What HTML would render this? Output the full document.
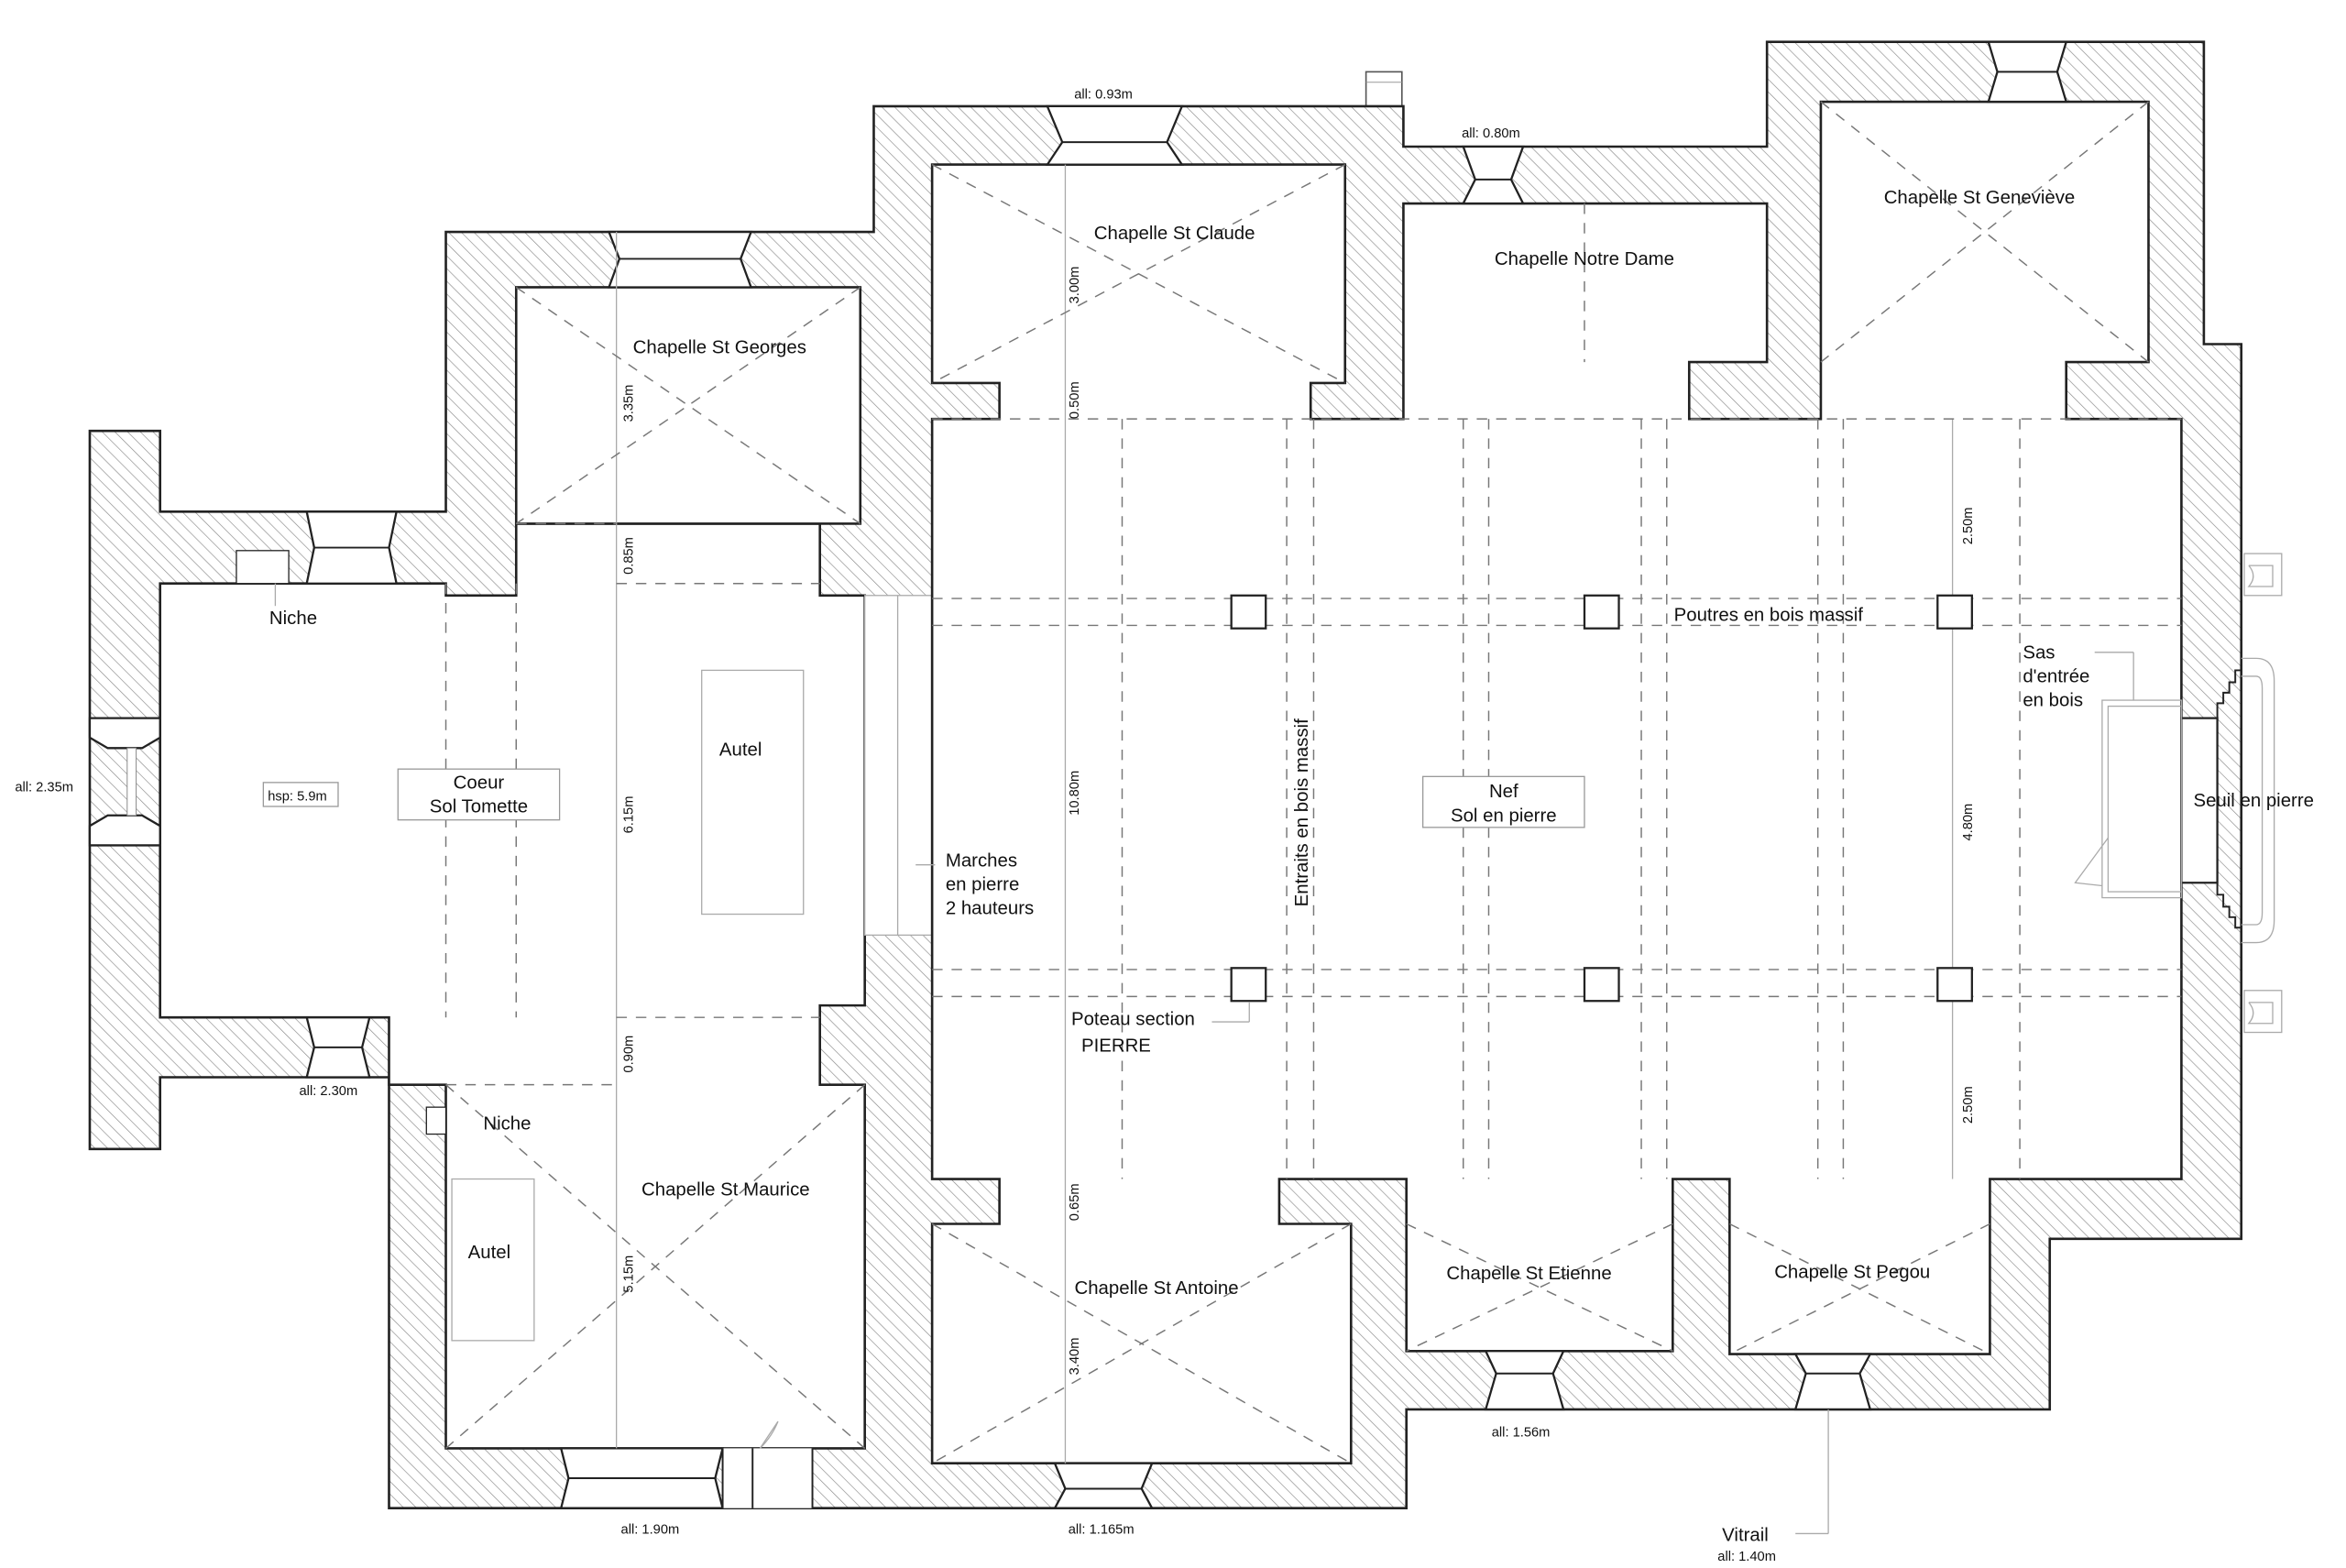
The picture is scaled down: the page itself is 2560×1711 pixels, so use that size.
<!DOCTYPE html>
<html><head><meta charset="utf-8"><style>
html,body{margin:0;padding:0;background:#fff;}
svg{display:block;}
text{font-family:"Liberation Sans",sans-serif;fill:#111;}
</style></head><body>
<svg width="2560" height="1711" viewBox="0 0 1568 1048" preserveAspectRatio="none" xmlns="http://www.w3.org/2000/svg">
<defs>
<pattern id="h" width="6" height="6" patternUnits="userSpaceOnUse" patternTransform="rotate(-45)">
<rect width="6" height="6" fill="#fff"/><line x1="0" y1="0" x2="0" y2="6" stroke="#8a8a8a" stroke-width="0.8"/>
</pattern>
</defs>
<rect width="1568" height="1048" fill="#fff"/>
<rect x="913" y="48" width="24" height="23" fill="#fff" stroke="#555" stroke-width="1"/>
<line x1="913" y1="55" x2="937" y2="55" stroke="#999" stroke-width="0.6"/>
<polygon points="60,288 107,288 107,342 298,342 298,155 584,155 584,71 938,71 938,98 1181,98 1181,28 1473,28 1473,230 1498,230 1498,828 1370,828 1370,942 940,942 940,1008 260,1008 260,720 107,720 107,768 60,768" fill="url(#h)" stroke="#222" stroke-width="1.6"/>
<g fill="#fff" stroke="#222" stroke-width="1.6">
<polygon points="107,390 298,390 298,398 345,398 345,350 548,350 548,398 578,398 578,672 548,672 548,725 578,725 578,968 298,968 298,725 260,725 260,680 107,680"/>
<rect x="345" y="192" width="230" height="158"/>
<rect x="578" y="398" width="45" height="227" stroke="#aaa" stroke-width="0.8"/>
<polygon points="668,280 668,256 623,256 623,110 899,110 899,256 876,256 876,280 938,280 938,136 1181,136 1181,242 1129,242 1129,280 1217,280 1217,68 1436,68 1436,242 1381,242 1381,280 1458,280 1458,788 1330,788 1330,905 1156,905 1156,788 1118,788 1118,903 940,903 940,788 855,788 855,818 903,818 903,978 623,978 623,818 668,818 668,788 623,788 623,280"/>
</g>
<g fill="#fff" stroke="#222" stroke-width="1.4">
<polygon points="205,342 265,342 260,366 265,390 205,390 210,366"/>
<polygon points="60,480 107,480 107,493 95,500 72,500 60,493"/>
<polygon points="60,565 107,565 107,552 95,545 72,545 60,552"/>
<rect x="85" y="500" width="6" height="45" stroke-width="0.6" stroke="#888"/>
<polygon points="205,680 247,680 242,700 247,720 205,720 210,700"/>
<polygon points="407,155 502,155 495,173 502,192 407,192 414,173"/>
<polygon points="700,71 790,71 780,95 790,110 700,110 710,95"/>
<polygon points="978,98 1018,98 1010,120 1018,136 978,136 986,120"/>
<polygon points="1329,28 1381,28 1375,48 1381,68 1329,68 1335,48"/>
<polygon points="375,968 483,968 478,988 483,1008 375,1008 380,988"/>
<polygon points="705,978 770,978 763,995 770,1008 705,1008 712,995"/>
<polygon points="993,903 1045,903 1038,918 1045,942 993,942 1000,918"/>
<polygon points="1200,905 1250,905 1243,918 1250,942 1200,942 1207,918"/>
<rect x="483" y="968" width="60" height="40" stroke="none"/>
<polygon points="1458,480 1482,480 1482,590 1458,590"/>
</g>
<g fill="none" stroke="#222" stroke-width="1.2">
<line x1="210" y1="366" x2="260" y2="366"/><line x1="210" y1="700" x2="242" y2="700"/>
<line x1="414" y1="173" x2="495" y2="173"/><line x1="710" y1="95" x2="780" y2="95"/>
<line x1="986" y1="120" x2="1010" y2="120"/><line x1="1335" y1="48" x2="1375" y2="48"/>
<line x1="380" y1="988" x2="478" y2="988"/><line x1="712" y1="995" x2="763" y2="995"/>
<line x1="1000" y1="918" x2="1038" y2="918"/><line x1="1207" y1="918" x2="1243" y2="918"/>
<line x1="483" y1="968" x2="483" y2="1008"/><line x1="503" y1="968" x2="503" y2="1008"/>
<line x1="543" y1="968" x2="543" y2="1008"/>
<line x1="1458" y1="480" x2="1458" y2="590"/>
<polyline points="1482,480 1482,470 1486,470 1486,463 1490,463 1490,456 1494,456 1494,448 1498,448"/>
<polyline points="1482,590 1482,598 1486,598 1486,606 1490,606 1490,613 1494,613 1494,620 1498,620"/>
</g>
<g fill="none" stroke="#aaa" stroke-width="0.8">
<path d="M508,968 L520,950 M508,968 Q516,960 520,950"/>
<path d="M1498,440 L1508,440 Q1520,440 1520,455 L1520,615 Q1520,630 1508,630 L1498,630"/>
<path d="M1498,452 L1508,452 Q1512,452 1512,460 L1512,610 Q1512,618 1508,618 L1498,618"/>
<rect x="1405" y="468" width="53" height="132"/><rect x="1409" y="472" width="49" height="124"/>
<polyline points="1409,560 1387,590 1405,592"/>
<line x1="1426" y1="436" x2="1426" y2="468"/><line x1="1400" y1="436" x2="1426" y2="436"/>
<rect x="1500" y="370" width="25" height="28"/><rect x="1500" y="662" width="25" height="28"/>
<path d="M1503,378 h16 v14 h-16 q6,-7 0,-14"/><path d="M1503,670 h16 v14 h-16 q6,-7 0,-14"/>
<rect x="469" y="448" width="68" height="163"/>
<rect x="302" y="788" width="55" height="108"/>
<rect x="285" y="740" width="13" height="18" stroke="#222" fill="#fff"/>
<rect x="158" y="368" width="35" height="22" stroke="#222" fill="#fff"/>
<line x1="184" y1="390" x2="184" y2="405"/>
<line x1="600" y1="398" x2="600" y2="625"/>
<line x1="612" y1="578" x2="625" y2="578"/>
<line x1="1222" y1="942" x2="1222" y2="1025"/><line x1="1200" y1="1025" x2="1222" y2="1025"/>
<line x1="835" y1="670" x2="835" y2="683"/><line x1="810" y1="683" x2="835" y2="683"/>
<line x1="412" y1="155" x2="412" y2="968"/><line x1="712" y1="110" x2="712" y2="978"/>
<line x1="1305" y1="280" x2="1305" y2="788"/>
</g>
<g fill="none" stroke="#777" stroke-width="0.9" stroke-dasharray="7,6">
<line x1="623" y1="400" x2="1458" y2="400"/><line x1="623" y1="418" x2="1458" y2="418"/>
<line x1="623" y1="648" x2="1458" y2="648"/><line x1="623" y1="666" x2="1458" y2="666"/>
<line x1="623" y1="280" x2="1458" y2="280"/>
<line x1="750" y1="280" x2="750" y2="788"/><line x1="860" y1="280" x2="860" y2="788"/>
<line x1="878" y1="280" x2="878" y2="788"/><line x1="978" y1="280" x2="978" y2="788"/>
<line x1="995" y1="280" x2="995" y2="788"/><line x1="1097" y1="280" x2="1097" y2="788"/>
<line x1="1114" y1="280" x2="1114" y2="788"/><line x1="1215" y1="280" x2="1215" y2="788"/>
<line x1="1232" y1="280" x2="1232" y2="788"/><line x1="1350" y1="280" x2="1350" y2="788"/>
<line x1="298" y1="390" x2="298" y2="680"/><line x1="345" y1="390" x2="345" y2="680"/>
<line x1="345" y1="350" x2="412" y2="350"/><line x1="412" y1="390" x2="548" y2="390"/>
<line x1="412" y1="680" x2="548" y2="680"/><line x1="298" y1="725" x2="412" y2="725"/>
<line x1="345" y1="192" x2="575" y2="350"/><line x1="575" y1="192" x2="345" y2="350"/>
<line x1="623" y1="110" x2="899" y2="256"/><line x1="899" y1="110" x2="623" y2="256"/>
<line x1="1217" y1="68" x2="1436" y2="242"/><line x1="1436" y1="68" x2="1217" y2="242"/>
<line x1="298" y1="725" x2="578" y2="968"/><line x1="578" y1="725" x2="298" y2="968"/>
<line x1="623" y1="818" x2="903" y2="978"/><line x1="903" y1="818" x2="623" y2="978"/>
<line x1="940" y1="818" x2="1118" y2="903"/><line x1="1118" y1="818" x2="940" y2="903"/>
<line x1="1156" y1="818" x2="1330" y2="905"/><line x1="1330" y1="818" x2="1156" y2="905"/>
<line x1="1059" y1="136" x2="1059" y2="242"/>
</g>
<g fill="#fff" stroke="#222" stroke-width="1.4">
<rect x="823" y="398" width="23" height="22"/><rect x="1059" y="398" width="23" height="22"/><rect x="1295" y="398" width="23" height="22"/>
<rect x="823" y="647" width="23" height="22"/><rect x="1059" y="647" width="23" height="22"/><rect x="1295" y="647" width="23" height="22"/>
</g>
<g fill="#fff" stroke="#999" stroke-width="0.8">
<rect x="266" y="514" width="108" height="34"/>
<rect x="176" y="523" width="50" height="16"/>
<rect x="951" y="519" width="108" height="34"/>
</g>
<g font-size="12.5" text-anchor="middle">
<text x="481" y="236">Chapelle St Georges</text>
<text x="785" y="160">Chapelle St Claude</text>
<text x="1059" y="177">Chapelle Notre Dame</text>
<text x="1323" y="136">Chapelle St Geneviève</text>
<text x="485" y="799">Chapelle St Maurice</text>
<text x="773" y="865">Chapelle St Antoine</text>
<text x="1022" y="855">Chapelle St Etienne</text>
<text x="1238" y="854">Chapelle St Pegou</text>
<text x="320" y="527">Coeur</text><text x="320" y="543">Sol Tomette</text>
<text x="1005" y="533">Nef</text><text x="1005" y="549">Sol en pierre</text>
<text x="495" y="505">Autel</text>
<text x="327" y="841">Autel</text>
<text x="196" y="417">Niche</text>
<text x="1182" y="415">Poutres en bois massif</text>
<text x="746" y="703">PIERRE</text>
</g>
<g font-size="12.5">
<text x="323" y="755">Niche</text>
<text x="632" y="579">Marches</text><text x="632" y="595">en pierre</text><text x="632" y="611">2 hauteurs</text>
<text x="716" y="685">Poteau section</text>
<text x="1352" y="440">Sas</text><text x="1352" y="456">d'entrée</text><text x="1352" y="472">en bois</text>
<text x="1466" y="539">Seuil en pierre</text>
<text x="1151" y="1030">Vitrail</text>
<text transform="translate(874,606) rotate(-90)">Entraits en bois massif</text>
</g>
<g font-size="9">
<text x="179" y="535">hsp: 5.9m</text>
<text x="10" y="529">all: 2.35m</text>
<text x="200" y="732">all: 2.30m</text>
<text x="718" y="66">all: 0.93m</text>
<text x="977" y="92">all: 0.80m</text>
<text x="415" y="1025">all: 1.90m</text>
<text x="714" y="1025">all: 1.165m</text>
<text x="997" y="960">all: 1.56m</text>
<text x="1148" y="1043">all: 1.40m</text>
<text transform="translate(423,282) rotate(-90)">3.35m</text>
<text transform="translate(423,384) rotate(-90)">0.85m</text>
<text transform="translate(423,557) rotate(-90)">6.15m</text>
<text transform="translate(423,717) rotate(-90)">0.90m</text>
<text transform="translate(423,864) rotate(-90)">5.15m</text>
<text transform="translate(721,203) rotate(-90)">3.00m</text>
<text transform="translate(721,280) rotate(-90)">0.50m</text>
<text transform="translate(721,545) rotate(-90)">10.80m</text>
<text transform="translate(721,816) rotate(-90)">0.65m</text>
<text transform="translate(721,919) rotate(-90)">3.40m</text>
<text transform="translate(1318,364) rotate(-90)">2.50m</text>
<text transform="translate(1318,562) rotate(-90)">4.80m</text>
<text transform="translate(1318,751) rotate(-90)">2.50m</text>
</g>
</svg>
</body></html>
